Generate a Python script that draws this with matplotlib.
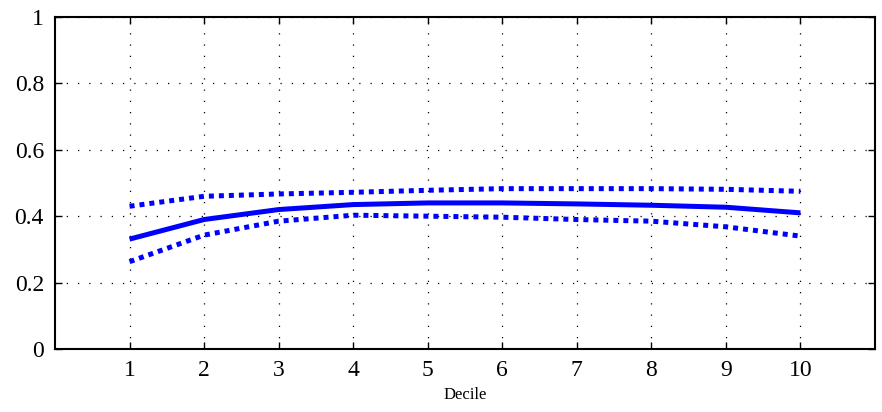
import matplotlib
matplotlib.use("Agg")
import matplotlib.pyplot as plt

deciles = [1, 2, 3, 4, 5, 6, 7, 8, 9, 10]
estimate = [0.331, 0.390, 0.420, 0.435, 0.440, 0.440, 0.437, 0.433, 0.427, 0.410]
upper = [0.430, 0.460, 0.467, 0.472, 0.478, 0.483, 0.483, 0.483, 0.481, 0.475]
lower = [0.263, 0.343, 0.385, 0.403, 0.400, 0.397, 0.390, 0.385, 0.368, 0.340]
yticks = [0, 0.2, 0.4, 0.6, 0.8, 1]
ytick_labels = ["0", "0.2", "0.4", "0.6", "0.8", "1"]

plt.rcParams['font.family'] = ['Liberation Serif', 'DejaVu Serif']

fig = plt.figure(figsize=(8.82, 4.12), dpi=100)
ax = fig.add_axes([55/882, 1 - 349/412, 820/882, 332/412])

ax.plot(deciles, estimate, color='#0000ff', lw=3.6, solid_capstyle='butt')
ax.plot(deciles, upper, color='#0000ff', lw=3.6, linestyle=(0, (1, 1)))
ax.plot(deciles, lower, color='#0000ff', lw=3.6, linestyle=(0, (1, 1)))

ax.set_xlim(0, 11)
ax.set_ylim(0, 1)
ax.set_xticks(deciles)
ax.set_xticklabels([str(d) for d in deciles])
ax.set_yticks(yticks)
ax.set_yticklabels(ytick_labels)
ax.grid(True, color='black', linestyle=(0, (1, 8)), linewidth=0.9)
ax.tick_params(direction='in', top=True, right=True, length=5, width=1, labelsize=17, pad=8)
for s in ax.spines.values():
    s.set_linewidth(1.5)
ax.set_xlabel('Decile', fontsize=12, labelpad=4)

fig.savefig('out.png', dpi=100)
